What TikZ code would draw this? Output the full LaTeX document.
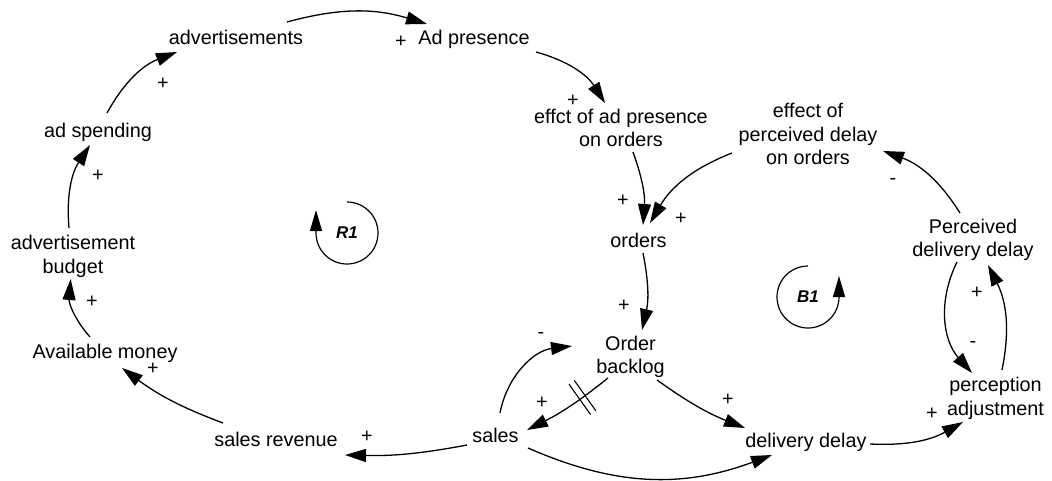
\documentclass[tikz,border=0pt]{standalone}
\usepackage{fontspec}
\setmainfont{Liberation Sans}
\usetikzlibrary{arrows.meta}
\begin{document}
\begin{tikzpicture}[x=1pt,y=1pt,
  var/.style={inner sep=0pt, align=center, font=\fontsize{19.8}{23.5}\selectfont},
  pol/.style={inner sep=0pt, font=\fontsize{19.8}{23.5}\selectfont},
  link/.style={line width=1.3pt, -{Triangle[length=21pt,width=13pt]}},
  looplbl/.style={inner sep=0pt, font=\fontsize{17}{20}\selectfont\bfseries\itshape},
  loopsym/.style={line width=1.2pt, -{Triangle[length=21pt,width=12pt]}},
  delaybox/.style={sloped, inner sep=0pt, minimum width=5.2pt, minimum height=36pt},
  hash/.style={line width=1.1pt}
]
\useasboundingbox (0,0) rectangle (1052,-480);

% variables
\node[var] (adv)  at (236,-37)    {advertisements};
\node[var] (adp)  at (474,-39)    {Ad presence};
\node[var] (eap)  at (621,-128)   {effct of ad presence\\on orders};
\node[var] (epd)  at (808,-134)   {effect of\\perceived delay\\on orders};
\node[var] (ads)  at (98,-132)    {ad spending};
\node[var] (abud) at (73,-256.5)  {advertisement\\budget};
\node[var] (avm)  at (105,-353)   {Available money};
\node[var] (srev) at (276,-439.5) {sales revenue};
\node[var] (sales) at (495.5,-435.5) {sales};
\node[var] (ob)   at (630.5,-357) {Order\\backlog};
\node[var] (ord)  at (638.5,-240) {orders};
\node[var] (dd)   at (806,-442)   {delivery delay};
\node[var] (pa)   at (995.5,-398.5) {perception\\adjustment};
\node[var] (pdd)  at (973,-240)   {Perceived\\delivery delay};

% links
\draw[link] ([shift={(51,15)}]adv.center) to[bend left=16] ([shift={(-47,15)}]adp.center);
\draw[link] ([shift={(62,-13)}]adp.center) to[bend left=21] ([shift={(-16,25)}]eap.center);
\draw[link] ([shift={(9,19)}]ads.center) to[bend left=20] ([shift={(-59,-15)}]adv.center);
\draw[link] ([shift={(-4,28.5)}]abud.center) to[bend left=19] ([shift={(-8,-13)}]ads.center);
\draw[link] ([shift={(-15,16)}]avm.center) to[bend left=23] ([shift={(-2.3,-22.5)}]abud.center);
\draw[link] ([shift={(-53,16.5)}]srev.center) to[bend left=8] ([shift={(17,-15)}]avm.center);
\draw[link] ([shift={(-28.5,-9.5)}]sales.center) to[bend left=6] ([shift={(69,-15.5)}]srev.center);
\draw[link] ([shift={(12,-24)}]eap.center) to[bend left=12] ([shift={(4.5,15)}]ord.center);
\draw[link] ([shift={(-76,-19)}]epd.center) to[bend right=19] ([shift={(11.5,17)}]ord.center);
\draw[link] ([shift={(4.5,-13)}]ord.center) to[bend left=12] ([shift={(11.5,27)}]ob.center);
\draw[link] ([shift={(-22.5,-21)}]ob.center) to[bend left=6] node[delaybox, pos=0.32] (hm) {} ([shift={(31.5,5.5)}]sales.center);
\draw[hash] (hm.north west) -- (hm.south west) (hm.north east) -- (hm.south east);
\draw[link] ([shift={(4.5,22.5)}]sales.center) to[bend left=36] ([shift={(-58.5,11)}]ob.center);
\draw[link] ([shift={(26.5,-23)}]ob.center) to[bend right=7] ([shift={(-61,14)}]dd.center);
\draw[link] ([shift={(32.5,-12.5)}]sales.center) to[bend right=22] ([shift={(-34,-13)}]dd.center);
\draw[link] ([shift={(64,-2)}]dd.center) to[bend right=16] ([shift={(-32.5,-23.5)}]pa.center);
\draw[link] ([shift={(-16,-22)}]pdd.center) to[bend right=34] ([shift={(-23.5,25.5)}]pa.center);
\draw[link] ([shift={(6.5,28.5)}]pa.center) to[bend right=19] ([shift={(15,-25)}]pdd.center);
\draw[link] ([shift={(-13,27)}]pdd.center) to[bend right=19] ([shift={(75,-17)}]epd.center);

% polarities
\node[pol] (s1)  at (163,-84)  {+};
\node[pol] (s2)  at (98,-176)  {+};
\node[pol] (s3)  at (92,-302)  {+};
\node[pol] (s4)  at (153,-369) {+};
\node[pol] (s5)  at (367,-437) {+};
\node[pol] (s6)  at (401,-42)  {+};
\node[pol] (s7)  at (573,-101) {+};
\node[pol] (s8)  at (623,-201) {+};
\node[pol] (s9)  at (681,-219) {+};
\node[pol] (s10) at (624,-306) {+};
\node[pol] (s11) at (541,-335) {-};
\node[pol] (s12) at (542,-403) {+};
\node[pol] (s13) at (728,-400) {+};
\node[pol] (s14) at (932,-414) {+};
\node[pol] (s15) at (893,-181) {-};
\node[pol] (s16) at (977,-293) {+};
\node[pol] (s17) at (973,-344) {-};

% loop identifiers
\node[looplbl] (r1) at (347,-233) {R1};
\draw[loopsym] ([shift={(0,31)}]r1.center) arc[start angle=90, end angle=-180, radius=31] -- ++(0,23);
\node[looplbl] (b1) at (808,-297) {B1};
\draw[loopsym] ([shift={(0,31)}]b1.center) arc[start angle=90, end angle=360, radius=31] -- ++(0,21);
\end{tikzpicture}
\end{document}
